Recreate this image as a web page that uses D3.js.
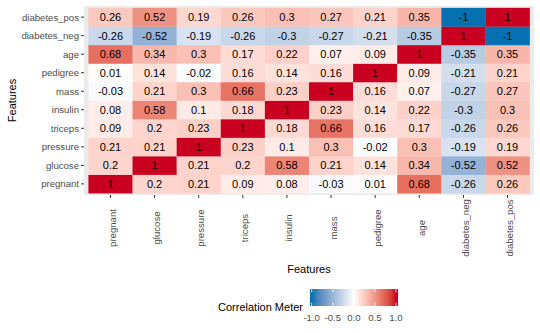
<!doctype html>
<html lang="en">
	<head>
		<meta charset="UTF-8">
		<title>Correlation heatmap</title>
		<style>
		body { margin: 0; background: #fff; }
		svg { font-family: "Liberation Sans", Arial, sans-serif; display: block; }
		.axis text { fill: #4d4d4d; font-size: 9.6px; }
		.axis line { stroke: #333; }
		.axis path { display: none; }
		.title { font-size: 11px; fill: #000; }
		.cell-label { font-size: 11px; fill: #000; }
		</style>
	</head>
	<body>
		<script src="https://cdn.jsdelivr.net/npm/d3@7"></script>
		<script>
			var features = ["pregnant", "glucose", "pressure", "triceps", "insulin", "mass", "pedigree", "age", "diabetes_neg", "diabetes_pos"];

			// one row of correlations per feature, columns in the order of `features`
			var pregnant    = [1, 0.2, 0.21, 0.09, 0.08, -0.03, 0.01, 0.68, -0.26, 0.26];
			var glucose     = [0.2, 1, 0.21, 0.2, 0.58, 0.21, 0.14, 0.34, -0.52, 0.52];
			var pressure    = [0.21, 0.21, 1, 0.23, 0.1, 0.3, -0.02, 0.3, -0.19, 0.19];
			var triceps     = [0.09, 0.2, 0.23, 1, 0.18, 0.66, 0.16, 0.17, -0.26, 0.26];
			var insulin     = [0.08, 0.58, 0.1, 0.18, 1, 0.23, 0.14, 0.22, -0.3, 0.3];
			var mass        = [-0.03, 0.21, 0.3, 0.66, 0.23, 1, 0.16, 0.07, -0.27, 0.27];
			var pedigree    = [0.01, 0.14, -0.02, 0.16, 0.14, 0.16, 1, 0.09, -0.21, 0.21];
			var age         = [0.68, 0.34, 0.3, 0.17, 0.22, 0.07, 0.09, 1, -0.35, 0.35];
			var diabetesNeg = [-0.26, -0.52, -0.19, -0.26, -0.3, -0.27, -0.21, -0.35, 1, -1];
			var diabetesPos = [0.26, 0.52, 0.19, 0.26, 0.3, 0.27, 0.21, 0.35, -1, 1];

			var legendTicks = [-1, -0.5, 0, 0.5, 1];

			var rows = [pregnant, glucose, pressure, triceps, insulin, mass, pedigree, age, diabetesNeg, diabetesPos];

			var cells = [];
			rows.forEach(function(r, i){
				r.forEach(function(v, j){
					cells.push({ row: features[i], col: features[j], value: v });
				});
			});

			// plain hyphen for negatives instead of d3's unicode minus
			var fmtCell = function(v){ return d3.format("~g")(v).replace(/\u2212/g, "-"); };
			var fmtLegend = function(v){ return d3.format(".1f")(v).replace(/\u2212/g, "-"); };

			var width = 540,
				height = 333,
				panel = { left: 84, right: 534, top: 6, bottom: 195 };

			var svg = d3.select("body").append("svg")
				.attr("width", width)
				.attr("height", height);

			// discrete scales with ggplot-style 0.6 unit expansion
			var x = d3.scaleBand()
				.domain(features)
				.range([panel.left, panel.right])
				.paddingInner(0)
				.paddingOuter(0.1);

			var y = d3.scaleBand()
				.domain(features.slice().reverse())
				.range([panel.top, panel.bottom])
				.paddingInner(0)
				.paddingOuter(0.1);

			var lowCol = "#0571b0", highCol = "#ca0020";
			var color = function(v){
				return v < 0 ? d3.interpolateLab("#ffffff", lowCol)(-v)
				             : d3.interpolateLab("#ffffff", highCol)(v);
			};

			svg.append("rect")
				.attr("x", panel.left)
				.attr("y", panel.top)
				.attr("width", panel.right - panel.left)
				.attr("height", panel.bottom - panel.top)
				.attr("fill", "#ebebeb");

			svg.append("g").selectAll("rect")
				.data(cells)
				.enter()
				.append("rect")
				.attr("x", function(d){ return x(d.col); })
				.attr("y", function(d){ return y(d.row); })
				.attr("width", x.bandwidth() + 0.3)
				.attr("height", y.bandwidth() + 0.3)
				.attr("fill", function(d){ return color(d.value); });

			svg.append("g").selectAll("text")
				.data(cells)
				.enter()
				.append("text")
				.attr("class", "cell-label")
				.attr("x", function(d){ return x(d.col) + x.bandwidth() / 2; })
				.attr("y", function(d){ return y(d.row) + y.bandwidth() / 2; })
				.attr("dy", "0.36em")
				.attr("text-anchor", "middle")
				.text(function(d){ return fmtCell(d.value); });

			// axes
			var xAxis = svg.append("g")
				.attr("class", "axis")
				.attr("transform", "translate(0," + panel.bottom + ")")
				.call(d3.axisBottom(x).tickSize(3).tickPadding(0));

			xAxis.selectAll("text")
				.attr("transform", "translate(5.5,33) rotate(-90)")
				.attr("x", 0)
				.attr("y", 0)
				.attr("dy", 0)
				.attr("text-anchor", "middle");

			svg.append("g")
				.attr("class", "axis")
				.attr("transform", "translate(" + panel.left + ",0)")
				.call(d3.axisLeft(y).tickSize(3).tickPadding(2))
				.selectAll("text")
				.attr("dy", "0.36em");

			svg.append("text")
				.attr("class", "title")
				.attr("x", (panel.left + panel.right) / 2)
				.attr("y", 273)
				.attr("text-anchor", "middle")
				.text("Features");

			svg.append("text")
				.attr("class", "title")
				.attr("transform", "translate(15.5," + (panel.top + panel.bottom) / 2 + ") rotate(-90)")
				.attr("text-anchor", "middle")
				.text("Features");

			// colour bar legend
			var bar = { x: 310, y: 289, w: 88, h: 17 };
			var legendX = d3.scaleLinear().domain([-1, 1]).range([bar.x + 1.7, bar.x + bar.w - 2]);

			var grad = svg.append("defs").append("linearGradient")
				.attr("id", "corr-grad")
				.attr("x1", "0%").attr("x2", "100%");

			d3.range(0, 21).forEach(function(i){
				var v = -1 + i * 0.1;
				grad.append("stop")
					.attr("offset", (legendX(v) - bar.x) / bar.w * 100 + "%")
					.attr("stop-color", color(Math.max(-1, Math.min(1, v))));
			});

			svg.append("rect")
				.attr("x", bar.x)
				.attr("y", bar.y)
				.attr("width", bar.w)
				.attr("height", bar.h)
				.attr("fill", "url(#corr-grad)");

			var legendG = svg.append("g");

			legendG.selectAll("line.top")
				.data(legendTicks)
				.enter()
				.append("line")
				.attr("x1", function(d){ return legendX(d); })
				.attr("x2", function(d){ return legendX(d); })
				.attr("y1", bar.y)
				.attr("y2", bar.y + 3.4)
				.attr("stroke", "#fff")
				.attr("stroke-width", 0.8);

			legendG.selectAll("line.bottom")
				.data(legendTicks)
				.enter()
				.append("line")
				.attr("x1", function(d){ return legendX(d); })
				.attr("x2", function(d){ return legendX(d); })
				.attr("y1", bar.y + bar.h - 3.4)
				.attr("y2", bar.y + bar.h)
				.attr("stroke", "#fff")
				.attr("stroke-width", 0.8);

			legendG.selectAll("text")
				.data(legendTicks)
				.enter()
				.append("text")
				.attr("x", function(d){ return legendX(d); })
				.attr("y", 321)
				.attr("text-anchor", "middle")
				.attr("fill", "#4d4d4d")
				.style("font-size", "9.6px")
				.text(function(d){ return fmtLegend(d); });

			svg.append("text")
				.attr("class", "title")
				.attr("x", 303)
				.attr("y", 311)
				.attr("text-anchor", "end")
				.text("Correlation Meter");

		</script>
	</body>
</html>
